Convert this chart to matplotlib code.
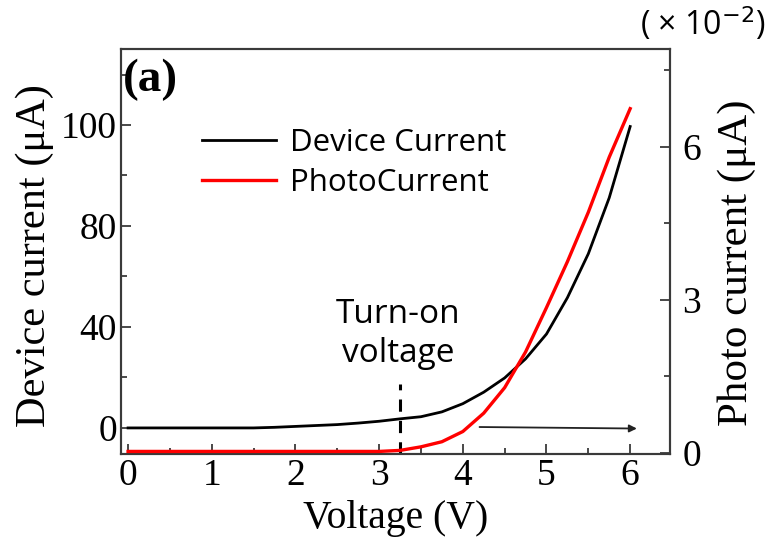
import matplotlib
matplotlib.use("Agg")
import matplotlib.pyplot as plt
from matplotlib.ticker import FixedLocator, MultipleLocator

# Bias voltage (V)
voltage = [0.0, 0.5, 1.0, 1.5, 1.75, 2.0, 2.25, 2.5, 2.75, 3.0, 3.25, 3.5, 3.75,
           4.0, 4.25, 4.5, 4.75, 5.0, 5.25, 5.5, 5.75, 6.0]
# Device current, plotted on the left axis
device_current = [0.0, 0.0, 0.0, 0.0, 0.2, 0.5, 0.8, 1.1, 1.6, 2.2, 3.0, 3.7, 5.3,
                  8.0, 11.8, 16.5, 22.8, 31.0, 43.0, 57.5, 76.0, 99.5]
# Photo current (x 1e-2 uA), plotted on the right axis
photo_current = [0.03, 0.03, 0.03, 0.03, 0.03, 0.03, 0.03, 0.03, 0.03, 0.03, 0.05,
                 0.12, 0.22, 0.42, 0.78, 1.28, 1.98, 2.85, 3.75, 4.72, 5.80, 6.75]

x_ticks = [0, 1, 2, 3, 4, 5, 6]
left_tick_pos = [0, 100 / 3, 200 / 3, 100]
left_tick_labels = ["0", "40", "80", "100"]
right_ticks = [0, 3, 6]
turn_on_voltage = 3.25

serif = "Liberation Serif"
sans = "Open Sans"
spine_col = "#3a3a3a"

fig = plt.figure(figsize=(7.68, 5.40), dpi=100)
ax = fig.add_axes([0.1576, 0.1593, 0.7148, 0.75])
ax2 = ax.twinx()

ax.plot(voltage, device_current, color="black", lw=2.0, label="Device Current", zorder=3)
ax2.plot(voltage, photo_current, color="#ff0000", lw=2.4, label="PhotoCurrent", zorder=3)

ax.set_xlim(-0.084, 6.476)
ax.set_ylim(-8.6, 125.1)
ax2.set_ylim(-0.02, 7.92)

ax.xaxis.set_major_locator(FixedLocator(x_ticks))
ax.xaxis.set_minor_locator(MultipleLocator(0.5))
ax.yaxis.set_major_locator(FixedLocator(left_tick_pos))
ax.set_yticklabels(left_tick_labels)
ax.yaxis.set_minor_locator(MultipleLocator(50 / 3))
ax2.yaxis.set_major_locator(FixedLocator(right_ticks))
ax2.yaxis.set_minor_locator(MultipleLocator(1.5))

for a in (ax, ax2):
    for s in a.spines.values():
        s.set_color(spine_col)
        s.set_linewidth(1.5)
ax.tick_params(axis="both", which="major", direction="in", length=7, width=1.3,
               color=spine_col, labelsize=27, pad=3)
ax.tick_params(axis="both", which="minor", direction="in", length=4, width=1.3,
               color=spine_col)
ax2.tick_params(axis="y", which="major", direction="in", length=7, width=1.3,
                color=spine_col, labelsize=27, pad=9)
ax2.tick_params(axis="y", which="minor", direction="in", length=4, width=1.3,
                color=spine_col)
for lab in ax.get_xticklabels() + ax.get_yticklabels() + ax2.get_yticklabels():
    lab.set_fontfamily(serif)

ax.set_xlabel("Voltage (V)", fontfamily=serif, fontsize=28.5, labelpad=5)
ax.set_ylabel("Device current (μA)", fontfamily=serif, fontsize=30.5)
ax.yaxis.set_label_coords(-0.122, 0.489)
ax2.set_ylabel("Photo current (μA)", fontfamily=serif, fontsize=31)
ax2.yaxis.set_label_coords(1.0856, 0.472)

# Turn-on voltage marker
ax.plot([turn_on_voltage, turn_on_voltage], [-8.6, 14.5], color="black", lw=2.2,
        ls=(0, (4, 3)), zorder=4)
ax.text(turn_on_voltage - 0.02, 21.8, "Turn-on\nvoltage", ha="center", va="baseline",
        fontfamily=sans, fontsize=24, linespacing=1.25)

# Arrow pointing toward the photo current axis
ax.annotate("", xy=(6.08, -0.2), xytext=(4.2, 0.3),
            arrowprops=dict(arrowstyle="-|>", color="#222222", lw=1.3,
                            mutation_scale=11, shrinkA=0, shrinkB=0))

ax.text(0.003, 0.975, "(a)", transform=ax.transAxes, ha="left", va="top",
        fontfamily=serif, fontweight="bold", fontsize=34)

fig.text(0.997, 0.99, "( × 10$^{−2}$)", ha="right", va="top", fontfamily=sans,
         fontsize=23)

h1, l1 = ax.get_legend_handles_labels()
h2, l2 = ax2.get_legend_handles_labels()
leg = ax.legend(h1 + h2, l1 + l2, loc="upper left", bbox_to_anchor=(0.125, 0.836),
                frameon=False, prop={"family": sans, "size": 22.5},
                handlelength=2.35, handletextpad=0.45, labelspacing=0.32,
                borderaxespad=0)

fig.savefig("out.png", dpi=100)
